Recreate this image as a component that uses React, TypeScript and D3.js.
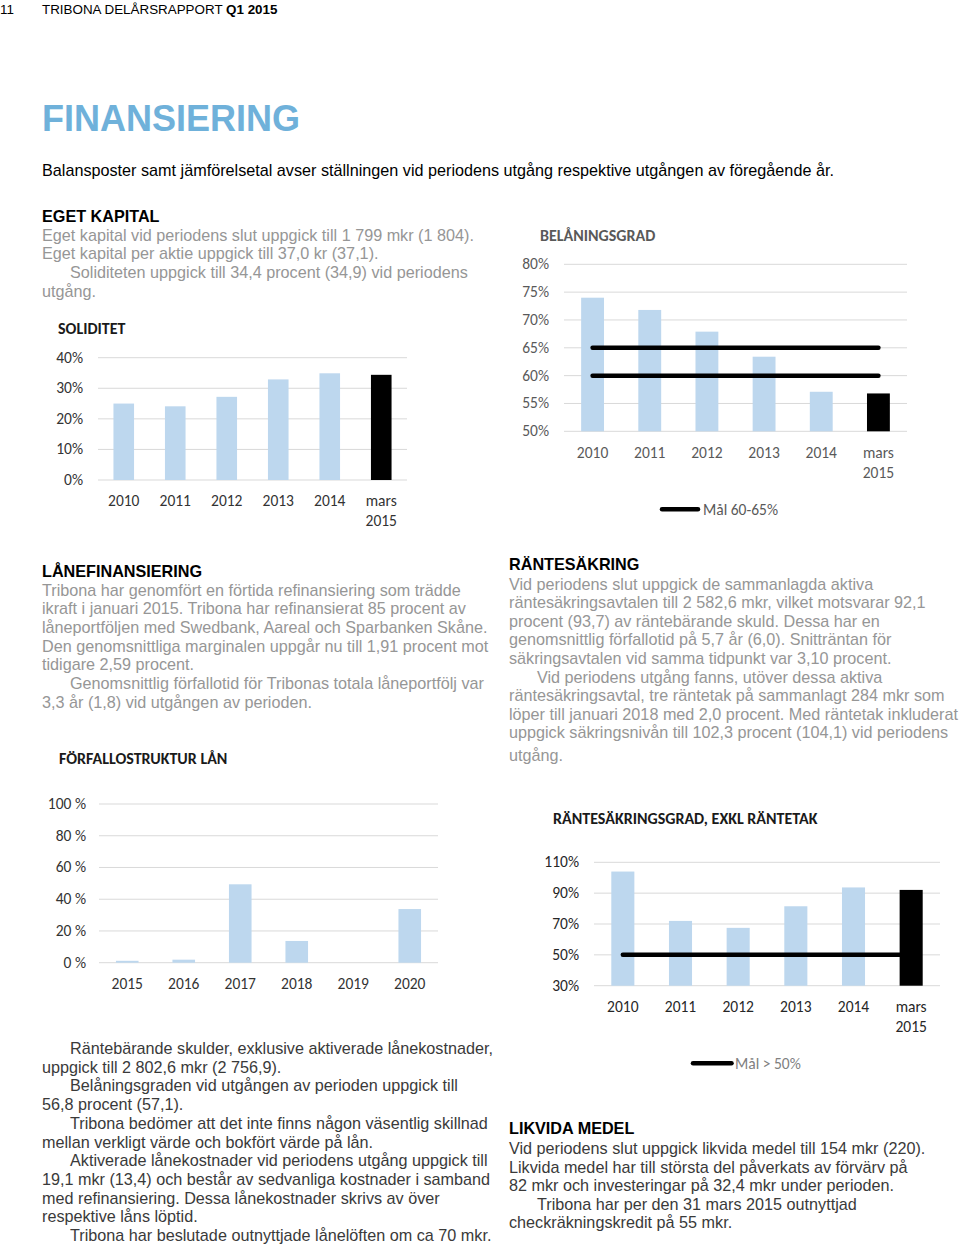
import React from "react";
import { scaleBand, scaleLinear } from "d3";

// ---- data ----
const yearCats = ["2010", "2011", "2012", "2013", "2014", "mars 2015"];

const soliditetValues = [25.0, 24.1, 27.2, 32.9, 34.9, 34.4];
const soliditetTicks = [0, 10, 20, 30, 40];

const belaningValues = [74.0, 71.8, 67.9, 63.4, 57.1, 56.8];
const belaningTicks = [50, 55, 60, 65, 70, 75, 80];
const belaningTargets = [60, 65];

const forfalloCats = ["2015", "2016", "2017", "2018", "2019", "2020"];
const forfalloValues = [1.2, 1.9, 49.4, 13.7, 0, 33.8];
const forfalloTicks = [0, 20, 40, 60, 80, 100];

const rantesakValues = [104.0, 72.0, 67.5, 81.5, 93.7, 92.1];
const rantesakTicks = [30, 50, 70, 90, 110];
const rantesakTargets = [50];

const BAR_BLUE = "#BDD7EE";
const GRID = "#d9d9d9";
const TEXT_FONT = "'Liberation Sans', Arial, sans-serif";
const CHART_FONT = "Carlito, Calibri, Lato, sans-serif";
const CHART_SIZE = 15.5;
const BODY_SIZE = 16.2;

interface ChartProps {
    cats: string[];
    values: number[];
    ticks: number[];
    fmt: (v: number) => string;
    left: number;
    right: number;
    topPx: number;
    bottomPx: number;
    labelRight: number;
    catBaseline: number;
    color: string;
    highlightLast?: boolean;
    targets?: number[];
}

function BarChart(p: ChartProps) {
    const x = scaleBand()
        .domain(p.cats)
        .range([p.left, p.right])
        .paddingInner(0.6)
        .paddingOuter(0.3);
    const yMin = p.ticks[0];
    const yMax = p.ticks[p.ticks.length - 1];
    const y = scaleLinear().domain([yMin, yMax]).range([p.bottomPx, p.topPx]);
    const bw = x.bandwidth();
    const n = p.cats.length;
    const first = p.cats[0];
    const last = p.cats[n - 1];

    const bar = (c: string, i: number) => (
        <rect
            key={c}
            x={x(c)}
            y={y(p.values[i])}
            width={bw}
            height={y(yMin) - y(p.values[i])}
            fill={p.highlightLast && i === n - 1 ? "#000" : BAR_BLUE}
        />
    );

    return (
        <g fontFamily={CHART_FONT} fill={p.color}>
            {p.ticks.map((t) => (
                <g key={t}>
                    <line x1={p.left} x2={p.right} y1={y(t)} y2={y(t)} stroke={GRID} strokeWidth={1} />
                    <text x={p.labelRight} y={y(t) + 5} textAnchor="end" fontSize={CHART_SIZE}>
                        {p.fmt(t)}
                    </text>
                </g>
            ))}
            {p.cats.map((c, i) => (p.highlightLast && i === n - 1 ? null : bar(c, i)))}
            {/* target lines go over the light bars but under the black one */}
            {(p.targets || []).map((t) => (
                <line
                    key={"t" + t}
                    x1={(x(first) || 0) + bw / 2}
                    x2={(x(last) || 0) + bw / 2}
                    y1={y(t)}
                    y2={y(t)}
                    stroke="#000"
                    strokeWidth={4.5}
                    strokeLinecap="round"
                />
            ))}
            {p.highlightLast ? bar(last, n - 1) : null}
            {p.cats.map((c) => (
                <text key={"l" + c} x={(x(c) || 0) + bw / 2} y={p.catBaseline} textAnchor="middle" fontSize={CHART_SIZE}>
                    {c.split(" ").map((part, k) => (
                        <tspan key={k} x={(x(c) || 0) + bw / 2} dy={k === 0 ? 0 : 20}>
                            {part}
                        </tspan>
                    ))}
                </text>
            ))}
        </g>
    );
}

function Para({x, y, lh, lines, color}: {x: number; y: number; lh: number; lines: string[]; color: string}) {
    return (
        <g fontFamily={TEXT_FONT} fontSize={BODY_SIZE} fill={color}>
            {lines.map((l, i) => (
                <text key={i} x={l.startsWith("\t") ? x + 28 : x} y={y + i * lh}>
                    {l.replace("\t", "")}
                </text>
            ))}
        </g>
    );
}

const Heading = ({x, y, children}: {x: number; y: number; children: React.ReactNode}) => (
    <text x={x} y={y} fontFamily={TEXT_FONT} fontSize={BODY_SIZE} fontWeight="bold" fill="#000">
        {children}
    </text>
);

const ChartTitle = ({x, y, color, children}: {x: number; y: number; color: string; children: React.ReactNode}) => (
    <text x={x} y={y} fontFamily={CHART_FONT} fontSize={16} fontWeight="bold" fill={color}>
        {children}
    </text>
);

const GREY = "#969696";
const DARK = "#3a3a3a";

export default function App() {
    const pct = (v: number) => `${v}%`;
    const pctSp = (v: number) => `${v} %`;
    return (
        <svg
            width={960}
            height={1246}
            viewBox="0 0 960 1246"
            style={{position: "absolute", left: 0, top: 0, background: "#fff"}}
        >
            <rect width={960} height={1246} fill="#fff" />
            <g fontFamily={TEXT_FONT} fontSize={13.4} fill="#000">
                <text x={0} y={14}>11</text>
                <text x={42} y={14}>
                    TRIBONA DELÅRSRAPPORT <tspan fontWeight="bold">Q1 2015</tspan>
                </text>
            </g>
            <text x={42} y={130.5} fontFamily={TEXT_FONT} fontSize={36} fontWeight="bold" fill="#6FB1DA">
                FINANSIERING
            </text>
            <text x={42} y={176} fontFamily={TEXT_FONT} fontSize={BODY_SIZE} fill="#000">
                Balansposter samt jämförelsetal avser ställningen vid periodens utgång respektive utgången av föregående år.
            </text>

            <Heading x={42} y={221.5}>EGET KAPITAL</Heading>
            <Para
                x={42}
                y={240.5}
                lh={18.7}
                color={GREY}
                lines={[
                    "Eget kapital vid periodens slut uppgick till 1 799 mkr (1 804).",
                    "Eget kapital per aktie uppgick till 37,0 kr (37,1).",
                    "\tSoliditeten uppgick till 34,4 procent (34,9) vid periodens",
                    "utgång.",
                ]}
            />

            <ChartTitle x={58} y={334} color="#1a1a1a">SOLIDITET</ChartTitle>
            <BarChart
                cats={yearCats}
                values={soliditetValues}
                ticks={soliditetTicks}
                fmt={pct}
                left={98}
                right={407}
                topPx={357.7}
                bottomPx={480}
                labelRight={83}
                catBaseline={505.5}
                color="#333"
                highlightLast
            />

            <ChartTitle x={540} y={240.5} color="#595959">BELÅNINGSGRAD</ChartTitle>
            <BarChart
                cats={yearCats}
                values={belaningValues}
                ticks={belaningTicks}
                fmt={pct}
                left={564}
                right={907}
                topPx={264.3}
                bottomPx={431.3}
                labelRight={549}
                catBaseline={457.5}
                color="#595959"
                highlightLast
                targets={belaningTargets}
            />
            <line x1={662} x2={698} y1={509.3} y2={509.3} stroke="#000" strokeWidth={4.5} strokeLinecap="round" />
            <text x={703} y={514.5} fontFamily={CHART_FONT} fontSize={CHART_SIZE} fill="#595959">Mål 60-65%</text>

            <Heading x={42} y={577}>LÅNEFINANSIERING</Heading>
            <Para
                x={42}
                y={595.5}
                lh={18.7}
                color={GREY}
                lines={[
                    "Tribona har genomfört en förtida refinansiering som trädde",
                    "ikraft i januari 2015. Tribona har refinansierat 85 procent av",
                    "låneportföljen med Swedbank, Aareal och Sparbanken Skåne.",
                    "Den genomsnittliga marginalen uppgår nu till 1,91 procent mot",
                    "tidigare 2,59 procent.",
                    "\tGenomsnittlig förfallotid för Tribonas totala låneportfölj var",
                    "3,3 år (1,8) vid utgången av perioden.",
                ]}
            />

            <Heading x={509} y={569.5}>RÄNTESÄKRING</Heading>
            <Para
                x={509}
                y={589.5}
                lh={18.6}
                color={GREY}
                lines={[
                    "Vid periodens slut uppgick de sammanlagda aktiva",
                    "räntesäkringsavtalen till 2 582,6 mkr, vilket motsvarar 92,1",
                    "procent (93,7) av räntebärande skuld. Dessa har en",
                    "genomsnittlig förfallotid på 5,7 år (6,0). Snitträntan för",
                    "säkringsavtalen vid samma tidpunkt var 3,10 procent.",
                    "\tVid periodens utgång fanns, utöver dessa aktiva",
                    "räntesäkringsavtal, tre räntetak på sammanlagt 284 mkr som",
                    "löper till januari 2018 med 2,0 procent. Med räntetak inkluderat",
                    "uppgick säkringsnivån till 102,3 procent (104,1) vid periodens",
                ]}
            />
            <Para x={509} y={760.5} lh={18.6} color={GREY} lines={["utgång."]} />

            <ChartTitle x={59} y={763.5} color="#1a1a1a">FÖRFALLOSTRUKTUR LÅN</ChartTitle>
            <BarChart
                cats={forfalloCats}
                values={forfalloValues}
                ticks={forfalloTicks}
                fmt={pctSp}
                left={99}
                right={438}
                topPx={804}
                bottomPx={962.7}
                labelRight={86}
                catBaseline={988.5}
                color="#333"
            />

            <ChartTitle x={553} y={824} color="#1a1a1a">RÄNTESÄKRINGSGRAD, EXKL RÄNTETAK</ChartTitle>
            <BarChart
                cats={yearCats}
                values={rantesakValues}
                ticks={rantesakTicks}
                fmt={pct}
                left={594}
                right={940}
                topPx={862.3}
                bottomPx={985.7}
                labelRight={579}
                catBaseline={1011.5}
                color="#262626"
                highlightLast
                targets={rantesakTargets}
            />
            <line x1={693} x2={731.5} y1={1063.3} y2={1063.3} stroke="#000" strokeWidth={4.5} strokeLinecap="round" />
            <text x={735} y={1068.5} fontFamily={CHART_FONT} fontSize={CHART_SIZE} fill="#808080">Mål &gt; 50%</text>

            <Para
                x={42}
                y={1054}
                lh={18.7}
                color={DARK}
                lines={[
                    "\tRäntebärande skulder, exklusive aktiverade lånekostnader,",
                    "uppgick till 2 802,6 mkr (2 756,9).",
                    "\tBelåningsgraden vid utgången av perioden uppgick till",
                    "56,8 procent (57,1).",
                    "\tTribona bedömer att det inte finns någon väsentlig skillnad",
                    "mellan verkligt värde och bokfört värde på lån.",
                    "\tAktiverade lånekostnader vid periodens utgång uppgick till",
                    "19,1 mkr (13,4) och består av sedvanliga kostnader i samband",
                    "med refinansiering. Dessa lånekostnader skrivs av över",
                    "respektive låns löptid.",
                    "\tTribona har beslutade outnyttjade lånelöften om ca 70 mkr.",
                ]}
            />

            <Heading x={509} y={1134}>LIKVIDA MEDEL</Heading>
            <Para
                x={509}
                y={1154}
                lh={18.5}
                color={DARK}
                lines={[
                    "Vid periodens slut uppgick likvida medel till 154 mkr (220).",
                    "Likvida medel har till största del påverkats av förvärv på",
                    "82 mkr och investeringar på 32,4 mkr under perioden.",
                    "\tTribona har per den 31 mars 2015 outnyttjad",
                    "checkräkningskredit på 55 mkr.",
                ]}
            />
        </svg>
    );
}
